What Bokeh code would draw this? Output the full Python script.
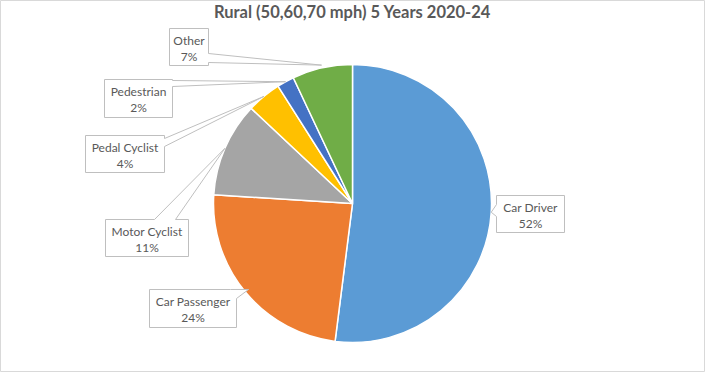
import numpy as np
from bokeh.plotting import figure
from bokeh.models import Range1d, ColumnDataSource
from bokeh.core.properties import value
from bokeh.embed import file_html
from bokeh.resources import INLINE

# ---- data ----
title_text = "Rural (50,60,70 mph) 5 Years 2020-24"
categories = ["Car Driver", "Car Passenger", "Motor Cyclist", "Pedal Cyclist", "Pedestrian", "Other"]
shares = [52, 24, 11, 4, 2, 7]
pct_labels = ["52%", "24%", "11%", "4%", "2%", "7%"]
colors = ["#5B9BD5", "#ED7D31", "#A5A5A5", "#FFC000", "#4472C4", "#70AD47"]

# ---- layout (reference pixel coordinates, y downwards) ----
W, H = 721, 388
CX, CY, R = 360, 211, 139
boxes = [  # left, top, right, bottom
    (504, 203, 572, 240),
    (157, 297, 244, 335),
    (113, 227, 196, 264),
    (93, 143, 172, 180),
    (112, 87, 180, 125),
    (177, 36, 216, 73),
]
pointer_base = [
    ("left", 212, 224),
    ("corner_tr", 238, 306),
    ("top", 162, 183),
    ("right", 146, 154),
    ("right", 88, 94),
    ("right", 61, 70),
]
tip_r = [1.0, 0.97, 1.0, 1.0, 1.0, 1.02]

vals = np.array(shares, dtype=float)
frac = vals / vals.sum()
cum_end = np.cumsum(frac)
cum_start = cum_end - frac
start_angle = np.pi / 2 - cum_start * 2 * np.pi
end_angle = np.pi / 2 - cum_end * 2 * np.pi
mid = (cum_start + cum_end) / 2 * 2 * np.pi

def fy(y):
    return H - y

p = figure(width=705, height=372, x_range=Range1d(8, 713), y_range=Range1d(H - 380, H - 8),
           x_axis_type=None, y_axis_type=None, toolbar_location=None, output_backend="svg",
           min_border=0, background_fill_color="white", border_fill_color="white")
p.outline_line_color = "#D9D9D9"
p.outline_line_width = 1

src = ColumnDataSource(dict(start=start_angle, end=end_angle, color=colors))
p.wedge(x=CX, y=fy(CY), radius=R, start_angle="start", end_angle="end", direction="clock",
        fill_color="color", line_color="white", line_width=1.5, source=src)

# callouts
xs, ys = [], []
for i, (l, t, r, b) in enumerate(boxes):
    tx = CX + R * tip_r[i] * np.sin(mid[i])
    ty = CY - R * tip_r[i] * np.cos(mid[i])
    side, a1, a2 = pointer_base[i]
    if side == "left":
        pts = [(l, t), (r, t), (r, b), (l, b), (l, a2), (tx, ty), (l, a1)]
    elif side == "right":
        pts = [(l, t), (r, t), (r, a1), (tx, ty), (r, a2), (r, b), (l, b)]
    elif side == "top":
        pts = [(l, t), (a1, t), (tx, ty), (a2, t), (r, t), (r, b), (l, b)]
    else:  # corner_tr
        pts = [(l, t), (a1, t), (tx, ty), (r, a2), (r, b), (l, b)]
    xs.append([q[0] for q in pts])
    ys.append([fy(q[1]) for q in pts])
p.patches(xs, ys, fill_color="white", line_color="#BFBFBF", line_width=1)

cxs = [(bx[0] + bx[2]) / 2 for bx in boxes]
cys = [(bx[1] + bx[3]) / 2 for bx in boxes]
p.text(x=cxs, y=[fy(c - 7) for c in cys], text=categories, text_align="center",
       text_baseline="middle", text_font=value("Lato"), text_font_size="12px", text_color="#595959")
p.text(x=cxs, y=[fy(c + 9) for c in cys], text=pct_labels, text_align="center",
       text_baseline="middle", text_font=value("Lato"), text_font_size="12px", text_color="#595959")

p.text(x=[CX], y=[fy(19)], text=[title_text], text_align="center", text_baseline="middle",
       text_font=value("Lato"), text_font_style="bold", text_font_size="16.5px", text_color="#595959")

open("out.html", "w").write(file_html(p, INLINE))
